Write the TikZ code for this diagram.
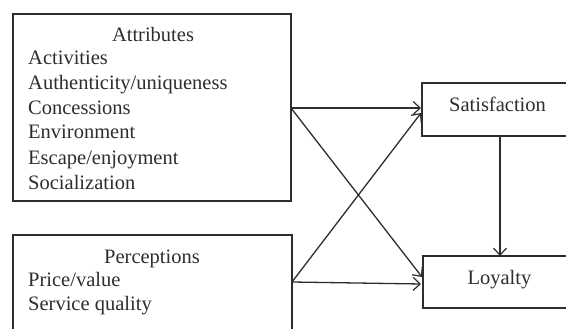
\documentclass[tikz,border=0pt]{standalone}
\usepackage{fontspec}
\setmainfont{Liberation Serif}
\usetikzlibrary{arrows.meta}
\definecolor{ink}{HTML}{2E2E2E}
\begin{document}
\begin{tikzpicture}[x=1pt,y=-1pt,
  box/.style={draw=ink, line width=1.2pt, inner sep=0pt},
  lbl/.style={anchor=base, inner sep=0pt, text=ink, font=\fontsize{20.5}{24}\selectfont},
  item/.style={lbl, anchor=base west},
  link/.style={draw=ink, line width=1.3pt, -{Straight Barb[length=7pt,width=13pt,line width=1.2pt]}}]
\useasboundingbox (0,0) rectangle (566,329);
\clip (0,0) rectangle (566,329);
\fill[white] (0,0) rectangle (566,329);

% left boxes
\node[box, minimum width=278pt, minimum height=187pt] (attr) at (152,107.5) {};
\node[box, minimum width=279pt, minimum height=120pt] (perc) at (152.5,295) {};
% right boxes
\node[box, minimum width=152pt, minimum height=53pt] (sat) at (498,109.5) {};
\node[box, minimum width=153pt, minimum height=52pt] (loy) at (499.5,282) {};

% box texts
\node[lbl] (attrT) at (153,42) {Attributes};
\node[item] (a1) at (28,65) {Activities};
\node[item] (a2) at (28,89.5) {Authenticity/uniqueness};
\node[item] (a3) at (28,114.5) {Concessions};
\node[item] (a4) at (28,139) {Environment};
\node[item] (a5) at (28,164.5) {Escape/enjoyment};
\node[item] (a6) at (28,189.5) {Socialization};

\node[lbl] (percT) at (152,263) {Perceptions};
\node[item] (p1) at (28,287) {Price/value};
\node[item] (p2) at (28,310.5) {Service quality};

\node[lbl] (satT) at (497.5,112) {Satisfaction};
\node[lbl] (loyT) at (499.5,284) {Loyalty};

% connector ends
\coordinate (aOut) at (291,108);
\coordinate (pOut) at (292,282);
\coordinate (sInA) at (421,108);
\coordinate (sInP) at (421,113);
\coordinate (lInA) at (422,277);
\coordinate (lInP) at (421,284);
\coordinate (sDown) at (500,136);
\coordinate (lUp) at (500,256);

\draw[link] (aOut) -- (sInA);
\draw[link] (aOut) -- (lInA);
\draw[link] (pOut) -- (sInP);
\draw[link] (pOut) -- (lInP);
\draw[link] (sDown) -- (lUp);
\end{tikzpicture}
\end{document}
